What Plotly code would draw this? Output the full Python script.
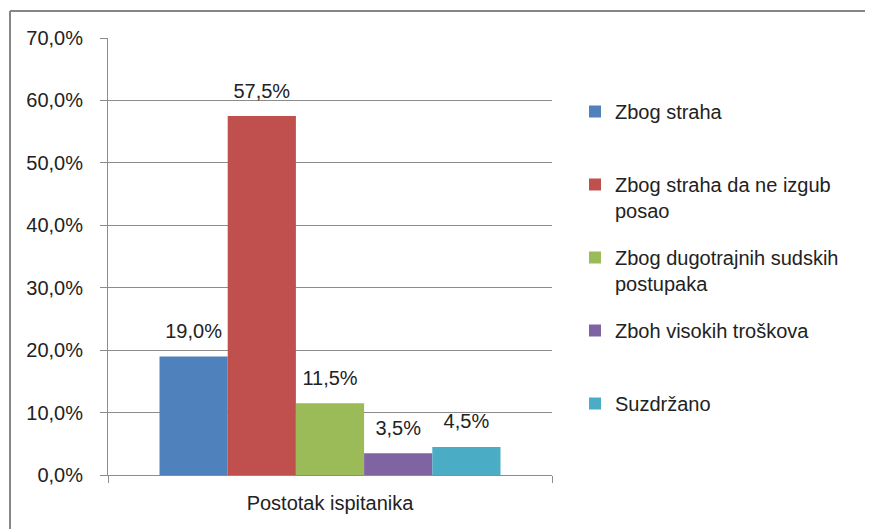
import plotly.graph_objects as go

category = ["Postotak ispitanika"]
series_names = [
    "Zbog straha<br>&nbsp;",
    "Zbog straha da ne izgub<br>posao",
    "Zbog dugotrajnih sudskih<br>postupaka",
    "Zboh visokih troškova<br>&nbsp;",
    "Suzdržano<br>&nbsp;",
]
values = [0.190, 0.575, 0.115, 0.035, 0.045]
colors = ["#4F81BD", "#C0504D", "#9BBB59", "#8064A2", "#4BACC6"]

FONT = "Liberation Sans, Arial, sans-serif"

fig = go.Figure()
for i, (name, val, col) in enumerate(zip(series_names, values, colors)):
    fig.add_trace(go.Bar(
        x=category, y=[val], name=name, marker_color=col,
        marker_line_width=0, legendgroup=str(i), offsetgroup=str(i),
    ))
# value labels sit a bit higher above the bars than bar "outside" text does,
# so they come from invisible markers whose size sets the gap
for i, val in enumerate(values):
    fig.add_trace(go.Scatter(
        x=category, y=[val], mode="markers+text", offsetgroup=str(i),
        texttemplate="%{y:.1%}", textposition="top center",
        textfont=dict(size=20, color="#222222"),
        marker=dict(size=20, color="rgba(0,0,0,0)"),
        showlegend=False, cliponaxis=False, hoverinfo="skip",
    ))

# page body has an 8px margin, so the figure is drawn 8px in from the corner
OFF = 8
W, H = 873 - OFF, 529 - OFF
L, T = 108 - OFF, 38 - OFF
pw, ph = 444, 437
R, B = W - L - pw, H - T - ph

fig.update_layout(
    width=W, height=H,
    margin=dict(l=L, r=R, t=T, b=B),
    separators=",.",
    paper_bgcolor="white", plot_bgcolor="white",
    font=dict(family=FONT, size=20, color="#222222"),
    barmode="group", bargap=0.232, bargroupgap=0,
    scattermode="group", scattergap=0.232,
    legend=dict(
        x=(575 - 108) / pw, xanchor="left", y=(475 - 92) / ph, yanchor="top",
        traceorder="grouped", tracegroupgap=18, valign="top",
        font=dict(size=20), itemwidth=30,
    ),
    shapes=[
        dict(type="line", xref="paper", yref="paper",
             x0=(10 - 108) / pw, x1=(890 - 108) / pw,
             y0=(475 - 11) / ph, y1=(475 - 11) / ph,
             line=dict(color="#868686", width=2)),
        dict(type="line", xref="paper", yref="paper",
             x0=(10 - 108) / pw, x1=(10 - 108) / pw,
             y0=(475 - 11) / ph, y1=(475 - 545) / ph,
             line=dict(color="#868686", width=2)),
    ],
)
fig.update_yaxes(
    range=[0, 0.7], dtick=0.1, tickformat=".1%",
    showgrid=True, gridcolor="#8C8C8C", gridwidth=1,
    showline=True, linecolor="#8C8C8C", linewidth=1,
    ticks="outside", ticklen=7, tickcolor="#8C8C8C",
    ticklabelstandoff=13, zeroline=False,
)
fig.update_xaxes(
    showline=True, linecolor="#8C8C8C", linewidth=1,
    ticks="outside", ticklen=7, tickcolor="#8C8C8C",
    tickson="boundaries", ticklabelstandoff=10,
)

fig.write_html("out.html")
